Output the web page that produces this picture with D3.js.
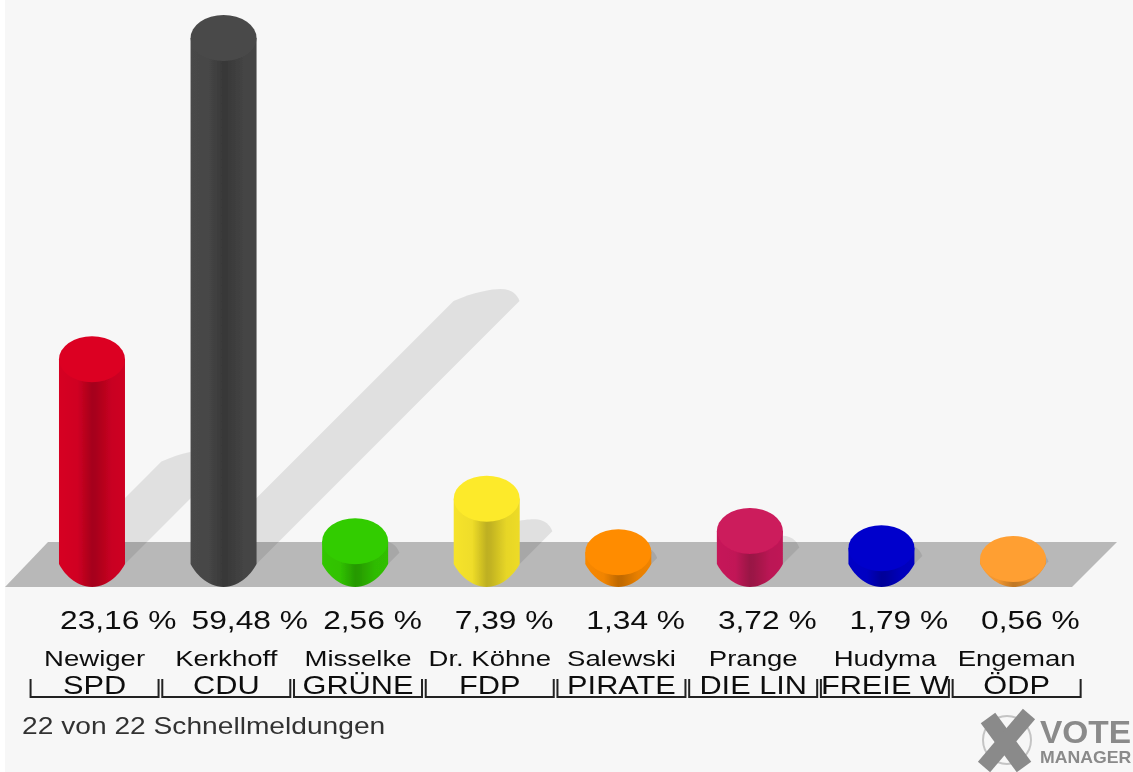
<!DOCTYPE html>
<html>
<head>
<meta charset="utf-8">
<script src="https://cdn.jsdelivr.net/npm/d3@7"></script>
<style>
  html, body { margin: 0; padding: 0; background: #fff; overflow: hidden; }
  svg { display: block; }
  text { font-family: "Liberation Sans", Arial, sans-serif; fill: #111; }
</style>
</head>
<body>
<script>
var parties = ["SPD", "CDU", "GRÜNE", "FDP", "PIRATE", "DIE LIN", "FREIE W", "ÖDP"];
var candidates = ["Newiger", "Kerkhoff", "Misselke", "Dr. Köhne", "Salewski", "Prange", "Hudyma", "Engeman"];
var shares = [23.16, 59.48, 2.56, 7.39, 1.34, 3.72, 1.79, 0.56];
var share_labels = ["23,16 %", "59,48 %", "2,56 %", "7,39 %", "1,34 %", "3,72 %", "1,79 %", "0,56 %"];
var bar_colors = ["#dc0024", "#4a4a4a", "#33cc00", "#fdea2b", "#ff8c00", "#cc1a5c", "#0000cc", "#ff9f33"];
var footer_text = "22 von 22 Schnellmeldungen";

var svg_width = 1133;
var svg_height = 772;
var ground_y = 564;
var rx = 33, ry = 23;
var text_stretch = 1.22;   // the source image is stretched sideways

var svg = d3.select("body").append("svg").attr("width", svg_width).attr("height", svg_height);
var defs = svg.append("defs");
defs.append("filter").attr("id", "soft")
    .attr("x", "-2%").attr("y", "-2%").attr("width", "104%").attr("height", "104%")
    .append("feGaussianBlur").attr("stdDeviation", 0.6);

// Scales
var x = d3.scaleBand().domain(parties).range([26.2, 1078.8]);
var labelX = d3.scaleBand().domain(parties).range([28.7, 1082.5]);
var y = d3.scaleLinear().domain([0, 59.48]).range([ground_y, 38]);

var cx = function(i) { return x(parties[i]) + x.bandwidth() / 2; };
var lx = function(i) { return labelX(parties[i]) + labelX.bandwidth() / 2; };

// Gradients for the cylinder bodies
bar_colors.forEach(function(c, i) {
  var g = defs.append("linearGradient").attr("id", "body" + i);
  [[0, 0.08], [0.28, 0.16], [0.5, 0.8], [0.56, 0.75], [0.8, 0.25], [1, 0.18]].forEach(function(s) {
    g.append("stop").attr("offset", s[0]).attr("stop-color", d3.color(c).darker(s[1]).formatHex());
  });
});

svg.append("rect").attr("x", 5).attr("y", 0)
    .attr("width", svg_width - 5).attr("height", svg_height).attr("fill", "#f7f7f7");

var chartGroup = svg.append("g").attr("filter", "url(#soft)");

// Floor
chartGroup.append("path")
    .attr("d", "M5,587 L48,542 L1117,542 L1072,587 Z")
    .attr("fill", "#b8b8b8");

// Shadows, thrown up and to the right at half the bar height, with a sheared cap
chartGroup.selectAll("path.shadow").data(shares).enter().append("path")
    .attr("class", "shadow")
    .attr("fill", "#000").attr("fill-opacity", 0.09)
    .attr("d", function(d, i) {
      var s = (ground_y - y(d)) / 2, left = cx(i) - rx, top = ground_y - s;
      return "M" + left + "," + ground_y +
             " L" + (left + s) + "," + top +
             " C" + (left + s + 20) + "," + (top - 9) + " " + (left + s + 38) + "," + (top - 12) + " " + (left + s + 47) + "," + (top - 12) +
             " C" + (left + s + 57) + "," + (top - 12) + " " + (left + s + 63) + "," + (top - 8) + " " + (left + s + 66) + "," + top +
             " L" + (left + 66) + "," + ground_y + " Z";
    });

// Bars
chartGroup.selectAll("path.body").data(shares).enter().append("path")
    .attr("class", "body")
    .attr("fill", function(d, i) { return "url(#body" + i + ")"; })
    .attr("d", function(d, i) {
      var c = cx(i);
      return "M" + (c - rx) + "," + y(d) +
             " L" + (c - rx) + "," + ground_y +
             " C" + (c - rx + 4) + "," + (ground_y + 8) + " " + (c - 17) + "," + (ground_y + ry) + " " + c + "," + (ground_y + ry) +
             " C" + (c + 17) + "," + (ground_y + ry) + " " + (c + rx - 4) + "," + (ground_y + 8) + " " + (c + rx) + "," + ground_y +
             " L" + (c + rx) + "," + y(d) + " Z";
    });

chartGroup.selectAll("ellipse.top").data(shares).enter().append("ellipse")
    .attr("class", "top")
    .attr("cx", function(d, i) { return cx(i); })
    .attr("cy", function(d) { return y(d); })
    .attr("rx", rx).attr("ry", ry)
    .attr("fill", function(d, i) { return bar_colors[i]; });

// Labels
function stretched(px, py, k) {
  return "translate(" + px + "," + py + ") scale(" + (k || text_stretch) + ",1)";
}

chartGroup.selectAll("text.share").data(share_labels).enter().append("text")
    .attr("class", "share")
    .attr("font-size", 26)
    .attr("transform", function(d, i) { return stretched(60 + i * x.bandwidth(), 629); })
    .text(function(d) { return d; });

chartGroup.selectAll("text.name").data(candidates).enter().append("text")
    .attr("class", "name")
    .attr("font-size", 22.6)
    .attr("text-anchor", "middle")
    .attr("transform", function(d, i) { return stretched(lx(i), 666); })
    .text(function(d) { return d; });

chartGroup.selectAll("text.party").data(parties).enter().append("text")
    .attr("class", "party")
    .attr("font-size", 25.2)
    .attr("text-anchor", "middle")
    .attr("transform", function(d, i) { return stretched(lx(i), 694); })
    .text(function(d) { return d; });

// Brackets under the party names
chartGroup.selectAll("path.bracket").data(parties).enter().append("path")
    .attr("class", "bracket")
    .attr("fill", "none").attr("stroke", "#222").attr("stroke-width", 2)
    .attr("d", function(d, i) {
      var c = lx(i);
      return "M" + (c - 64) + ",679 V697 H" + (c + 64) + " V679";
    });

chartGroup.append("text")
    .attr("font-size", 23.1)
    .attr("transform", stretched(22, 734))
    .style("fill", "#333")
    .text(footer_text);

// Logo
var logo = chartGroup.append("g");
logo.append("circle").attr("cx", 1007).attr("cy", 740).attr("r", 24)
    .attr("fill", "none").attr("stroke", "#c4c4c4").attr("stroke-width", 2);
logo.append("line").attr("x1", 988).attr("y1", 718).attr("x2", 1024).attr("y2", 767)
    .attr("stroke", "#8a8a8a").attr("stroke-width", 18);
logo.append("line").attr("x1", 1029).attr("y1", 714).attr("x2", 984).attr("y2", 767)
    .attr("stroke", "#8a8a8a").attr("stroke-width", 16);
logo.append("text").attr("font-size", 31).attr("font-weight", "bold")
    .attr("transform", stretched(1040, 743, 1.08))
    .style("fill", "#8a8a8a").text("VOTE");
logo.append("text").attr("font-size", 17).attr("font-weight", "bold")
    .attr("transform", stretched(1040, 763, 1.04))
    .style("fill", "#8a8a8a").text("MANAGER");
</script>
</body>
</html>
